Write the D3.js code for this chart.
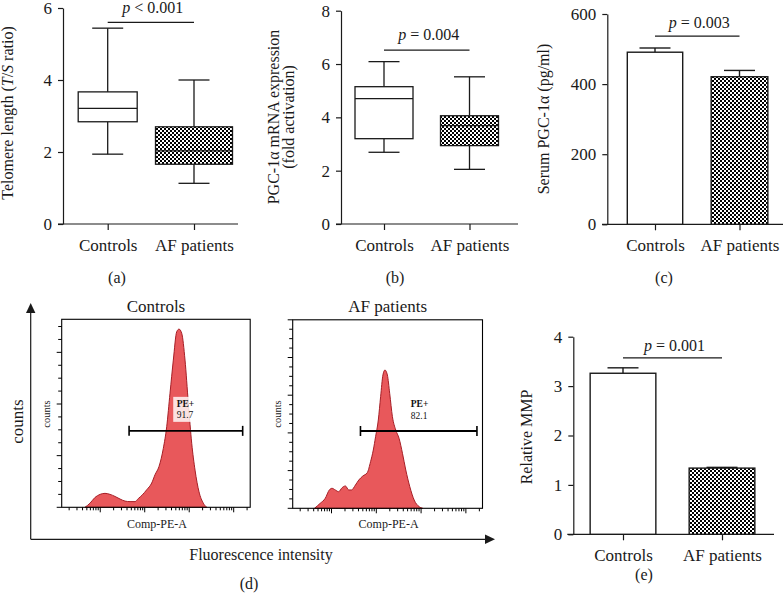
<!DOCTYPE html>
<html><head><meta charset="utf-8">
<script src="https://cdn.jsdelivr.net/npm/d3@7"></script>
<style>
body{margin:0;background:#fff;}
svg{display:block;font-family:"Liberation Serif","Times New Roman",serif;}
</style></head><body>
<svg id="c" width="783" height="595"></svg>
<script>
// ---------------- DATA ----------------
const categories = ["Controls", "AF patients"];
// (a) Telomere length box plot: [min, q1, median, q3, max]
const telomereStats = [[1.94, 2.84, 3.21, 3.67, 5.44], [1.13, 1.66, 2.03, 2.70, 4.00]];
const telomereTicks = [0, 2, 4, 6];
// (b) PGC-1α mRNA expression box plot
const pgcMrnaStats = [[2.69, 3.20, 4.70, 5.15, 6.09], [2.05, 2.94, 3.69, 4.06, 5.52]];
const pgcMrnaTicks = [0, 2, 4, 6, 8];
// (c) Serum PGC-1α
const serumMeans = [491, 421];
const serumErrors = [12, 18];
const serumTicks = [0, 200, 400, 600];
// (e) Relative MMP
const mmpMeans = [3.26, 1.34];
const mmpErrors = [0.11, 0.015];
const mmpTicks = [0, 1, 2, 3, 4];
// significance annotations (a, b, c, e)
const pTexts = ["< 0.001", "= 0.004", "= 0.003", "= 0.001"];
const pLineLevels = [5.6, 6.52, 537, 3.57];
// (d) flow cytometry histograms (Comp-PE-A fluorescence vs counts)
const flowControlsFluor = [45.5, 59, 76, 99, 128, 166, 215, 279, 361, 468, 605, 718, 883, 1109, 1436, 1703, 2095, 2618, 3120, 3703, 4395, 5240, 5900, 6780, 8050, 9550, 11380, 13520, 16600, 20750, 24720];
const flowControlsCounts = [0, 8, 19, 25, 27, 25, 21, 16, 12, 11, 11, 17, 24, 34, 47, 63, 79, 114, 156, 221, 285, 340, 345, 337, 285, 202, 124, 72, 30, 8, 0];
const flowAFFluor = [41.7, 56, 72.6, 89.3, 102.6, 121.7, 144.5, 172.2, 204.3, 242.3, 278.5, 342.6, 406.4, 500, 628, 745, 857, 964, 1109, 1249, 1407, 1560, 1766, 1990, 2290, 2717, 3222, 3839, 4550, 5600, 7000, 9060, 10810];
const flowAFCounts = [0, 6.6, 13.3, 24.3, 26.5, 24.3, 22, 27.3, 29.6, 24.3, 24.3, 30.9, 37.5, 42.8, 47.2, 61.8, 77.3, 94.9, 117.1, 148, 176.8, 183.4, 176.8, 152.5, 121.5, 103.8, 92.8, 72.9, 50.8, 28.6, 11, 2.1, 0];
const flowCountMax = [364, 250];
const flowCountStep = [100, 50];
const flowFluorDomain = [13.6, 235000];
const gateRanges = [[445, 159200], [443, 176600]];
const gateLevels = [148, 102.5];
const gateLabelFluor = [5240, 5900];
const gatePercents = ["91.7", "82.1"];

// ---------------- SETUP ----------------
const svg = d3.select("#c");
const INK = "#1a1a1a";
const FONT = "Liberation Serif, Times New Roman, serif";
const FS = 16;
const TFS = 17;
const defs = svg.append("defs");
const pat = defs.append("pattern").attr("id", "checker").attr("patternUnits", "userSpaceOnUse")
  .attr("width", 4).attr("height", 4);
pat.append("rect").attr("width", 4).attr("height", 4).attr("fill", "#fff");
pat.append("rect").attr("width", 2).attr("height", 2).attr("fill", "#000");
pat.append("rect").attr("x", 2).attr("y", 2).attr("width", 2).attr("height", 2).attr("fill", "#000");
const fills = ["#ffffff", "url(#checker)"];

function styleAxis(g) {
  g.attr("font-family", FONT).attr("font-size", TFS);
  g.selectAll("text").attr("fill", INK);
  g.selectAll("line,path").attr("stroke", INK).attr("stroke-width", 1.2);
}

function rich(sel, parts) {
  parts.forEach(p => sel.append("tspan").attr("font-style", p[1] ? "italic" : null).text(p[0]));
}

function frame(cfg, ticks) {
  const g = svg.append("g");
  const y = d3.scaleLinear().domain(cfg.dom).range(cfg.yr);
  const x = d3.scalePoint().domain(categories).range(cfg.cr);
  g.append("g").attr("transform", `translate(${cfg.yx},0)`)
    .call(d3.axisLeft(y).tickValues(ticks).tickSize(5).tickSizeOuter(0).tickPadding(6).tickFormat(d3.format("d")))
    .call(styleAxis);
  const xa = g.append("g").attr("transform", `translate(0,${y(0)})`)
    .call(d3.axisBottom(x).tickSize(6).tickPadding(9))
    .call(styleAxis);
  xa.select(".domain").remove();
  g.append("line").attr("x1", cfg.base[0]).attr("x2", cfg.base[1]).attr("y1", y(0)).attr("y2", y(0))
    .attr("stroke", INK).attr("stroke-width", 1.2);
  return {g, x, y};
}

function pAnnot(f, level, txt, off) {
  const x0 = f.x(categories[0]), x1 = f.x(categories[1]), yy = f.y(level);
  f.g.append("line").attr("x1", x0).attr("x2", x1).attr("y1", yy).attr("y2", yy)
    .attr("stroke", INK).attr("stroke-width", 1.2);
  const t = f.g.append("text").attr("x", (x0 + x1) / 2 + 2).attr("y", yy - off)
    .attr("text-anchor", "middle").attr("font-size", FS).attr("fill", INK);
  rich(t, [["p", true], [" " + txt, false]]);
}

function boxes(f, stats, widths) {
  stats.forEach((s, i) => {
    const cx = f.x(categories[i]), w = widths[i], cap = 15.5;
    const g = f.g.append("g").attr("stroke", INK).attr("stroke-width", 1.3);
    g.append("line").attr("x1", cx).attr("x2", cx).attr("y1", f.y(s[3])).attr("y2", f.y(s[4]));
    g.append("line").attr("x1", cx).attr("x2", cx).attr("y1", f.y(s[1])).attr("y2", f.y(s[0]));
    g.append("line").attr("x1", cx - cap).attr("x2", cx + cap).attr("y1", f.y(s[4])).attr("y2", f.y(s[4]));
    g.append("line").attr("x1", cx - cap).attr("x2", cx + cap).attr("y1", f.y(s[0])).attr("y2", f.y(s[0]));
    g.append("rect").attr("x", cx - w / 2).attr("width", w).attr("y", f.y(s[3]))
      .attr("height", f.y(s[1]) - f.y(s[3])).attr("fill", fills[i]);
    g.append("line").attr("x1", cx - w / 2).attr("x2", cx + w / 2).attr("y1", f.y(s[2])).attr("y2", f.y(s[2]));
  });
}

function bars(f, means, errs, widths) {
  means.forEach((m, i) => {
    const cx = f.x(categories[i]), w = widths[i], cap = 15.5;
    const g = f.g.append("g").attr("stroke", INK).attr("stroke-width", 1.4);
    g.append("line").attr("x1", cx).attr("x2", cx).attr("y1", f.y(m)).attr("y2", f.y(m + errs[i]));
    g.append("line").attr("x1", cx - cap).attr("x2", cx + cap).attr("y1", f.y(m + errs[i])).attr("y2", f.y(m + errs[i]));
    g.append("rect").attr("x", cx - w / 2).attr("width", w).attr("y", f.y(m))
      .attr("height", f.y(0) - f.y(m)).attr("fill", fills[i]);
  });
}

function ylabel(x, y, lines) {
  lines.forEach((parts, k) => {
    const t = svg.append("text").attr("transform", `translate(${x[k]},${y}) rotate(-90)`)
      .attr("text-anchor", "middle").attr("font-size", FS).attr("fill", INK);
    rich(t, parts);
  });
}
function plabel(x, y, s) {
  svg.append("text").attr("x", x).attr("y", y).attr("text-anchor", "middle")
    .attr("font-size", FS).attr("fill", INK).text(s);
}

// ---------------- (a) ----------------
const fa = frame({yx: 63, yr: [224, 8], dom: [0, 6], cr: [107.7, 194], base: [58, 238]}, telomereTicks);
boxes(fa, telomereStats, [59, 77]);
pAnnot(fa, pLineLevels[0], pTexts[0], 9);
ylabel([13], 113, [[["Telomere length (", false], ["T", true], ["/", false], ["S", true], [" ratio)", false]]]);
plabel(117, 283, "(a)");

// ---------------- (b) ----------------
const fb = frame({yx: 341, yr: [224, 10.7], dom: [0, 8], cr: [384, 469.5], base: [336, 518]}, pgcMrnaTicks);
boxes(fb, pgcMrnaStats, [58, 58]);
pAnnot(fb, pLineLevels[1], pTexts[1], 10);
ylabel([278.5, 294], 117, [[["PGC-1α mRNA expression", false]], [["(fold activation)", false]]]);
plabel(395, 283, "(b)");

// ---------------- (c) ----------------
const fc = frame({yx: 607.3, yr: [224.3, 14], dom: [0, 600], cr: [655, 739.5], base: [602, 783]}, serumTicks);
bars(fc, serumMeans, serumErrors, [55.4, 56.7]);
pAnnot(fc, pLineLevels[2], pTexts[2], 8);
ylabel([548.5], 119, [[["Serum PGC-1α (pg/ml)", false]]]);
plabel(664, 283, "(c)");

// ---------------- (e) ----------------
const fe = frame({yx: 573.3, yr: [534.3, 336.7], dom: [0, 4], cr: [623, 722], base: [567.3, 774]}, mmpTicks);
bars(fe, mmpMeans, mmpErrors, [65.7, 65.7]);
pAnnot(fe, pLineLevels[3], pTexts[3], 6.5);
ylabel([531.5], 437, [[["Relative MMP", false]]]);
plabel(644, 580, "(e)");

// ---------------- (d) ----------------
const flowBoxes = [
  {L: 61.7, R: 250.2, T: 319.3, B: 507.3, title: "Controls", fl: flowControlsFluor, ct: flowControlsCounts},
  {L: 292.7, R: 482.5, T: 319.8, B: 508.3, title: "AF patients", fl: flowAFFluor, ct: flowAFCounts}
];
flowBoxes.forEach((b, i) => {
  const g = svg.append("g");
  const x = d3.scaleLog().domain(flowFluorDomain).range([b.L, b.R]);
  const y = d3.scaleLinear().domain([0, flowCountMax[i]]).range([b.B, b.T]);
  const pts = b.fl.map((v, k) => [v, b.ct[k]]);
  const area = d3.area().x(d => x(d[0])).y0(y(0)).y1(d => y(d[1])).curve(d3.curveMonotoneX);
  g.append("path").attr("d", area(pts)).attr("fill", "#e8585b").attr("stroke", "#a61e26").attr("stroke-width", 1);
  g.append("rect").attr("x", b.L).attr("y", b.T).attr("width", b.R - b.L).attr("height", b.B - b.T)
    .attr("fill", "none").attr("stroke", "#000").attr("stroke-width", 1.1);
  // y ticks
  const step = flowCountStep[i] / 4;
  const yt = d3.range(0, flowCountMax[i] + 0.01, step);
  g.selectAll(".yt").data(yt).join("line")
    .attr("x1", d => b.L - ((Math.round(d / step) % 4 === 0) ? 5 : 3.5)).attr("x2", b.L)
    .attr("y1", d => y(d)).attr("y2", d => y(d)).attr("stroke", "#000").attr("stroke-width", 1);
  // x ticks (log decades)
  const xt = x.ticks().filter(d => d >= flowFluorDomain[0] && d <= flowFluorDomain[1]);
  g.selectAll(".xt").data(xt).join("line")
    .attr("x1", d => x(d)).attr("x2", d => x(d)).attr("y1", b.B)
    .attr("y2", d => b.B + (Math.abs(Math.log10(d) - Math.round(Math.log10(d))) < 1e-6 ? 5 : 3))
    .attr("stroke", "#000").attr("stroke-width", 1);
  // gate
  const gy = y(gateLevels[i]);
  const gx0 = x(gateRanges[i][0]), gx1 = x(gateRanges[i][1]);
  const lx = x(gateLabelFluor[i]);
  g.append("rect").attr("x", lx - 3.5).attr("y", gy - 34).attr("width", 19.5).attr("height", 25)
    .attr("fill", "#fff").attr("fill-opacity", 0.82);
  g.append("line").attr("x1", gx0).attr("x2", gx1).attr("y1", gy).attr("y2", gy).attr("stroke", "#000").attr("stroke-width", 1.8);
  [gx0, gx1].forEach(xx => g.append("line").attr("x1", xx).attr("x2", xx).attr("y1", gy - 5).attr("y2", gy + 5)
    .attr("stroke", "#000").attr("stroke-width", 1.6));
  g.append("text").attr("x", lx).attr("y", gy - 24.3).attr("font-size", 9.5).attr("font-weight", "bold").attr("fill", "#111").text("PE+");
  g.append("text").attr("x", lx).attr("y", gy - 12.5).attr("font-size", 9.5).attr("fill", "#111").text(gatePercents[i]);
  // labels
  g.append("text").attr("x", (b.L + b.R) / 2).attr("y", 312.3).attr("text-anchor", "middle")
    .attr("font-size", TFS).attr("fill", INK).text(b.title);
  g.append("text").attr("x", (b.L + b.R) / 2 + 1).attr("y", 528.3).attr("text-anchor", "middle")
    .attr("font-size", 12).attr("fill", INK).text("Comp-PE-A");
  g.append("text").attr("transform", `translate(${b.L - 12},${414}) rotate(-90)`).attr("text-anchor", "middle")
    .attr("font-size", 10.5).attr("fill", INK).text("counts");
});
// outer arrows
const ax = svg.append("g").attr("stroke", INK).attr("stroke-width", 1.2);
ax.append("line").attr("x1", 30.7).attr("x2", 30.7).attr("y1", 539.3).attr("y2", 310);
ax.append("line").attr("x1", 30.7).attr("x2", 488).attr("y1", 539.3).attr("y2", 539.3);
svg.append("path").attr("d", "M30.7,303 L26,313 L35.4,313 Z").attr("fill", INK);
svg.append("path").attr("d", "M495,539.3 L485,534.6 L485,544 Z").attr("fill", INK);
svg.append("text").attr("transform", "translate(23.3,421.5) rotate(-90)").attr("text-anchor", "middle")
  .attr("font-size", 17).attr("fill", INK).text("counts");
svg.append("text").attr("x", 261).attr("y", 560).attr("text-anchor", "middle")
  .attr("font-size", FS).attr("fill", INK).text("Fluorescence intensity");
plabel(249, 589, "(d)");
</script>
</body></html>
